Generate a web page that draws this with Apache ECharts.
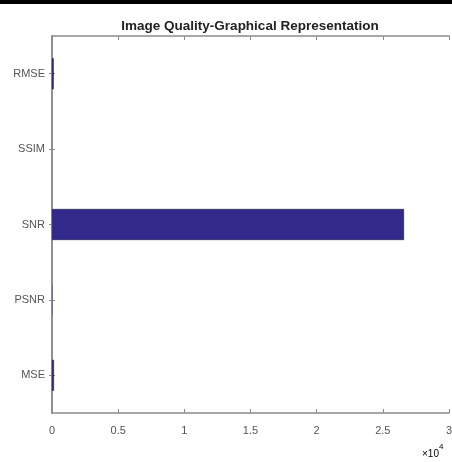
<!DOCTYPE html>
<html><head><meta charset="utf-8">
<script src="https://cdn.jsdelivr.net/npm/echarts@6/dist/echarts.min.js"></script>
<style>html,body{margin:0;padding:0;background:#fff}#c{width:452px;height:462px}</style>
</head><body><div id="c"></div>
<script>
const categories = ['MSE', 'PSNR', 'SNR', 'SSIM', 'RMSE'];
const values = [150, 26.7, 26600, 0.85, 130];
const xTicks = [0, 5000, 10000, 15000, 20000, 25000, 30000];

const chart = echarts.init(document.getElementById('c'));
const axisCol = '#8a8a8a';
const txtCol = '#555';
chart.setOption({
  animation: false,
  title: {text: 'Image Quality-Graphical Representation', left: 245, top: 14, textAlign: 'center',
    textStyle: {fontFamily: 'Liberation Sans', fontWeight: 'bold', fontSize: 13.5, color: '#222'}},
  grid: {left: 52, right: 3, top: 36, bottom: 49, outerBoundsMode: 'none', containLabel: false},
  graphic: [
    {type: 'rect', shape: {x: 0, y: 0, width: 452, height: 4}, style: {fill: '#000'}},
    {type: 'text', left: 422, top: 443, style: {text: '{a|×10}{b|4}', rich: {
      a: {fontFamily: 'Liberation Sans', fontSize: 10, color: txtCol, verticalAlign: 'bottom'},
      b: {fontFamily: 'Liberation Sans', fontSize: 8, color: txtCol, verticalAlign: 'top', padding: [0,0,8,0]}}}}
  ],
  xAxis: [{
    type: 'value', min: 0, max: 30000, interval: 5000,
    axisLine: {show: true, lineStyle: {color: axisCol, width: 1.5}},
    axisTick: {show: true, inside: true, length: 4, lineStyle: {color: axisCol}},
    splitLine: {show: false},
    axisLabel: {margin: 12, fontFamily: 'Liberation Sans', fontSize: 11, color: txtCol,
      formatter: v => String(v / 10000)}
  }, {
    type: 'value', min: 0, max: 30000, interval: 5000, position: 'top',
    axisLine: {show: true, lineStyle: {color: axisCol, width: 1.5}},
    axisTick: {show: true, inside: true, length: 4, lineStyle: {color: axisCol}},
    splitLine: {show: false}, axisLabel: {show: false}
  }],
  yAxis: [{
    type: 'category', data: categories,
    axisLine: {show: true, lineStyle: {color: axisCol, width: 1.5}},
    axisTick: {show: true, inside: true, length: 3, alignWithLabel: true, lineStyle: {color: axisCol}},
    axisLabel: {margin: 7, fontFamily: 'Liberation Sans', fontSize: 11, color: txtCol}
  }, {
    type: 'category', data: categories, position: 'right',
    axisLine: {show: true, lineStyle: {color: axisCol, width: 1.5}},
    axisTick: {show: true, inside: true, length: 3, alignWithLabel: true, lineStyle: {color: axisCol}},
    axisLabel: {show: false}
  }],
  series: [{
    type: 'bar', barWidth: 31,
    data: values.map(v => ({value: v, itemStyle: {borderWidth: v > 50 ? 0.6 : 0}})),
    itemStyle: {color: '#33298a', borderColor: '#1c1a45'}
  }]
});
</script></body></html>
